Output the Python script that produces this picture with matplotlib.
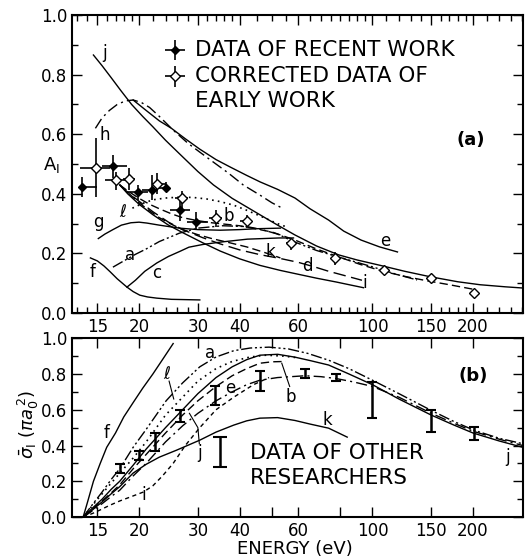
import numpy as np
import matplotlib.pyplot as plt
from matplotlib.ticker import FixedLocator, NullFormatter

plt.rcParams["font.family"] = ["DejaVu Sans"]
plt.rcParams["mathtext.fontset"] = "dejavusans"

# ---------------- panel (a): A_I vs energy ----------------
# recent work (filled diamonds)
rec_E = [13.5, 16.7, 19.8, 21.9, 24.0, 26.6, 29.6]
rec_A = [0.423, 0.493, 0.405, 0.413, 0.419, 0.346, 0.305]
rec_E_lo = [13.3, 15.5, 18.4, 20.4, 22.8, 24.8, 27.9]
rec_E_hi = [15.0, 18.4, 21.2, 22.8, 24.8, 28.4, 32.1]
rec_A_lo = [0.39, 0.453, 0.38, 0.38, 0.406, 0.31, 0.28]
rec_A_hi = [0.456, 0.53, 0.43, 0.463, 0.44, 0.38, 0.34]

# corrected early work (open diamonds)
early_E = [14.9, 17.0, 18.6, 22.7, 26.9, 33.9, 42.0, 57.2, 77.4, 108, 150, 201]
early_A = [0.487, 0.446, 0.45, 0.433, 0.386, 0.319, 0.309, 0.235, 0.185, 0.144, 0.117, 0.067]
early_E_lo = [13.3, 15.8, 17.9, 21.8, 25.6, 32.5, 40.2, 55.0, 77.4, 108, 150, 201]
early_E_hi = [16.4, 18.4, 19.5, 24.0, 28.0, 35.4, 43.0, 59.2, 77.4, 108, 150, 201]
early_A_lo = [0.39, 0.413, 0.413, 0.40, 0.346, 0.289, 0.285, 0.21, 0.16, 0.128, 0.117, 0.067]
early_A_hi = [0.587, 0.473, 0.487, 0.47, 0.41, 0.346, 0.33, 0.25, 0.205, 0.154, 0.117, 0.067]

# theory curves, panel (a)
ja_E = [14.6, 15.5, 16.5, 17.6, 19, 20.5, 22, 24, 26.4, 30, 33.4, 38, 46, 52, 58.6,
        68, 79.3, 90, 105.5, 125, 148.6, 180, 210, 250, 282]
ja_A = [0.866, 0.83, 0.79, 0.748, 0.70, 0.66, 0.625, 0.58, 0.535, 0.475, 0.43, 0.385,
        0.33, 0.295, 0.262, 0.225, 0.195, 0.178, 0.16, 0.14, 0.122, 0.105, 0.095, 0.088, 0.084]
ea_E = [19.2, 21, 23, 25, 27.5, 30.4, 34, 37.5, 42, 46.1, 52, 58.6, 65, 73.9, 82,
        92.4, 105, 118.8]
ea_A = [0.715, 0.68, 0.645, 0.62, 0.585, 0.55, 0.515, 0.49, 0.462, 0.44, 0.415, 0.386,
        0.35, 0.312, 0.275, 0.245, 0.222, 0.205]
ha_E = [14.8, 15.5, 16.3, 17.2, 18.2, 19.2, 20.3, 21.5, 23, 25.3, 28, 30.4, 34, 37,
        41, 46, 50, 53.7]
ha_A = [0.62, 0.655, 0.68, 0.70, 0.712, 0.715, 0.707, 0.69, 0.66, 0.614, 0.57, 0.54,
        0.5, 0.47, 0.43, 0.396, 0.37, 0.352]
ga_E = [15.1, 15.8, 16.7, 17.7, 18.9, 20, 21.1, 23, 26.4, 30, 35, 40, 45, 53]
ga_A = [0.25, 0.265, 0.28, 0.295, 0.303, 0.305, 0.302, 0.295, 0.285, 0.28, 0.278,
        0.28, 0.283, 0.285]
fa_E = [14.3, 15.0, 15.7, 16.4, 17.2, 18.4, 19.2, 20.1, 21.2, 22.6, 25, 30.4]
fa_A = [0.185, 0.175, 0.158, 0.138, 0.115, 0.087, 0.072, 0.06, 0.054, 0.05, 0.046, 0.044]
ca_E = [18.4, 19.5, 20.8, 22.6, 24.5, 26.5, 28.2, 31, 35, 42.2, 52.6, 58]
ca_A = [0.087, 0.11, 0.14, 0.168, 0.19, 0.207, 0.221, 0.23, 0.238, 0.248, 0.252, 0.252]
aa_E = [16.7, 18, 19.5, 21, 23, 26.4, 30, 35.6, 42, 46, 52, 58, 68, 78, 90, 100,
        118, 136]
aa_A = [0.154, 0.175, 0.197, 0.215, 0.24, 0.268, 0.285, 0.293, 0.29, 0.282, 0.265,
        0.24, 0.21, 0.19, 0.17, 0.155, 0.13, 0.111]
la_E = [19.1, 20.5, 22, 24, 26.4, 29, 31.8, 35, 38.4, 42, 46.9, 52, 55]
la_A = [0.352, 0.368, 0.38, 0.386, 0.389, 0.388, 0.383, 0.374, 0.362, 0.345, 0.322,
        0.3, 0.29]
ba_E = [17.5, 18.5, 20, 21.5, 23, 25, 27, 30, 33, 40, 50, 58.6, 68, 78.5, 92,
        107.6, 125, 146, 170, 200]
ba_A = [0.43, 0.41, 0.385, 0.365, 0.35, 0.333, 0.32, 0.31, 0.303, 0.293, 0.272, 0.245,
        0.215, 0.19, 0.163, 0.14, 0.123, 0.108, 0.095, 0.08]
ka_E = [17.5, 18.5, 20, 21.5, 23, 25, 27, 30, 33, 37, 42, 47, 53]
ka_A = [0.43, 0.405, 0.37, 0.343, 0.32, 0.298, 0.28, 0.263, 0.25, 0.237, 0.222, 0.205, 0.185]
da_E = [17.5, 18.5, 20, 22, 24.5, 27, 31, 35, 40, 46, 53, 60, 67, 74, 83, 93]
da_A = [0.43, 0.405, 0.375, 0.34, 0.305, 0.28, 0.253, 0.232, 0.212, 0.196, 0.183, 0.17,
        0.155, 0.14, 0.125, 0.11]
ia_E = [17.5, 18.5, 20, 22, 24.5, 27, 31, 35, 40, 46, 53, 60, 68, 78, 86, 94]
ia_A = [0.43, 0.4, 0.365, 0.33, 0.295, 0.27, 0.236, 0.208, 0.182, 0.16, 0.143, 0.13,
        0.117, 0.104, 0.094, 0.085]

# ---------------- panel (b): sigma_I vs energy ----------------
fb_E = [13.6, 14.0, 14.6, 15.3, 16.0, 17.0, 18.0, 19.2, 20.5, 22.0, 23.5, 25.3]
fb_s = [0.0, 0.08, 0.2, 0.3, 0.39, 0.47, 0.56, 0.64, 0.72, 0.8, 0.88, 0.97]
ab_E = [13.6, 14.5, 15.5, 16.5, 17.5, 19.2, 21, 24.1, 27, 30.4, 34, 38.4, 43, 49,
        56, 64, 73.9, 85, 100, 120, 148.6, 175, 201, 240, 282]
ab_s = [0.0, 0.07, 0.14, 0.21, 0.27, 0.39, 0.49, 0.65, 0.75, 0.84, 0.895, 0.93, 0.945,
        0.95, 0.94, 0.915, 0.877, 0.83, 0.765, 0.69, 0.6, 0.535, 0.486, 0.44, 0.41]
lb_E = [13.6, 14.5, 15.5, 16.5, 17.5, 19.2, 21, 24, 27, 30, 34, 38, 43, 48, 54, 60]
lb_s = [0.0, 0.065, 0.13, 0.19, 0.245, 0.33, 0.42, 0.57, 0.67, 0.76, 0.83, 0.87,
        0.895, 0.905, 0.9, 0.89]
jb_E = [13.6, 14.5, 15.5, 16.5, 17.5, 19.2, 21, 24, 27, 30, 34, 38, 42, 46, 52,
        58.6, 65, 73.9, 85, 100, 120, 150, 175, 200, 240, 282]
jb_s = [0.0, 0.05, 0.1, 0.155, 0.2, 0.29, 0.38, 0.5, 0.6, 0.69, 0.78, 0.84, 0.88,
        0.905, 0.91, 0.894, 0.875, 0.85, 0.8, 0.74, 0.66, 0.57, 0.515, 0.47, 0.425, 0.39]
bb_E = [13.6, 14.5, 15.5, 16.5, 17.5, 19.2, 21, 24, 27, 30, 34, 38, 42, 46, 50, 55]
bb_s = [0.0, 0.045, 0.09, 0.135, 0.18, 0.27, 0.35, 0.47, 0.57, 0.65, 0.73, 0.79,
        0.83, 0.86, 0.868, 0.87]
eb_E = [13.6, 14.5, 15.5, 16.5, 17.5, 19.2, 21, 24, 27, 30, 34, 38, 42, 46, 52,
        62.8, 70, 77.5, 88, 100, 120, 150, 175, 200, 240, 282]
eb_s = [0.0, 0.035, 0.075, 0.115, 0.15, 0.23, 0.3, 0.42, 0.51, 0.58, 0.65, 0.70,
        0.74, 0.765, 0.78, 0.79, 0.785, 0.775, 0.755, 0.73, 0.67, 0.58, 0.525, 0.48,
        0.435, 0.40]
ib_E = [13.6, 14.5, 15.3, 16.3, 17.5, 19, 20.6, 22, 23.5, 25.3, 27.5, 30.4, 34,
        38.4, 44, 49]
ib_s = [0.0, 0.02, 0.04, 0.065, 0.09, 0.115, 0.14, 0.175, 0.23, 0.3, 0.4, 0.5, 0.6,
        0.67, 0.74, 0.78]
kb_E = [13.6, 14.5, 15.5, 16.5, 17.5, 19.2, 21, 23, 25.9, 30.4, 34, 38.4, 42, 46,
        52, 58.6, 65, 73.9, 84]
kb_s = [0.0, 0.04, 0.085, 0.13, 0.17, 0.246, 0.295, 0.335, 0.374, 0.43, 0.475, 0.514,
        0.538, 0.553, 0.556, 0.54, 0.52, 0.497, 0.447]

# data of other researchers
oth_E = [17.5, 20.0, 22.3, 26.6, 33.8, 46.0, 62.8, 77.5, 100, 150, 201]
oth_s = [0.274, 0.346, 0.42, 0.565, 0.68, 0.76, 0.80, 0.78, 0.655, 0.537, 0.467]
oth_err = [0.025, 0.025, 0.048, 0.035, 0.055, 0.055, 0.025, 0.02, 0.1, 0.06, 0.036]

tick_vals = [15, 20, 30, 40, 60, 100, 150, 200]
tick_text = ["15", "20", "30", "40", "60", "100", "150", "200"]
minor_a = list(range(13, 20)) + list(range(22, 40, 2)) + list(range(45, 100, 5)) \
    + list(range(110, 200, 10)) + [220, 240, 260, 280]
ticks_b = [15, 20, 30, 40, 50, 60, 80, 100, 150, 200]

DASHDOT = (0, (8, 3, 1.5, 3))
DASHDOT2 = (0, (8, 2, 1.5, 2, 1.5, 2))
DOTTED = (0, (1, 2.5))
DASHED = (0, (6, 3))
SHORTDASH = (0, (3, 2.5))

fig = plt.figure(figsize=(5.26, 5.59), dpi=100)
ax1 = fig.add_axes([0.137, 0.440, 0.857, 0.533])
ax2 = fig.add_axes([0.137, 0.075, 0.857, 0.320])

for ax in (ax1, ax2):
    ax.set_xscale("log")
    ax.set_xlim(12.6, 282)
    ax.set_ylim(0, 1.0)
    ax.tick_params(which="both", direction="in", top=True, right=True,
                   labelsize=12, width=1.0)
    ax.tick_params(which="major", length=7)
    ax.tick_params(which="minor", length=4)
    for sp in ax.spines.values():
        sp.set_linewidth(1.5)
    ax.set_yticks([0, 0.2, 0.4, 0.6, 0.8, 1.0])
    ax.set_yticklabels(["0.0", "0.2", "0.4", "0.6", "0.8", "1.0"])
    ax.yaxis.set_minor_locator(FixedLocator([0.1, 0.3, 0.5, 0.7, 0.9]))

ax1.xaxis.set_major_locator(FixedLocator(tick_vals))
ax1.set_xticklabels(tick_text)
ax1.xaxis.set_minor_locator(FixedLocator([m for m in minor_a if m not in tick_vals]))
ax1.xaxis.set_minor_formatter(NullFormatter())

ax2.xaxis.set_major_locator(FixedLocator(ticks_b))
ax2.set_xticklabels(["15", "20", "30", "40", "", "60", "", "100", "150", "200"])
ax2.xaxis.set_minor_locator(FixedLocator([]))

lw = 1.0
k = "black"
# panel (a) curves
ax1.plot(ja_E, ja_A, color=k, lw=lw)
ax1.plot(ea_E, ea_A, color=k, lw=lw)
ax1.plot(ha_E, ha_A, color=k, lw=lw, linestyle=DASHDOT)
ax1.plot(ga_E, ga_A, color=k, lw=lw)
ax1.plot(fa_E, fa_A, color=k, lw=lw)
ax1.plot(ca_E, ca_A, color=k, lw=lw)
ax1.plot(aa_E, aa_A, color=k, lw=lw, linestyle=DASHDOT2)
ax1.plot(la_E, la_A, color=k, lw=1.2, linestyle=DOTTED)
ax1.plot(ba_E, ba_A, color=k, lw=lw, linestyle=DASHED)
ax1.plot(ka_E, ka_A, color=k, lw=lw, linestyle=DASHED)
ax1.plot(da_E, da_A, color=k, lw=lw, linestyle=(0, (9, 4)))
ax1.plot(ia_E, ia_A, color=k, lw=lw)

# panel (a) data
rec_xerr = [np.subtract(rec_E, rec_E_lo), np.subtract(rec_E_hi, rec_E)]
rec_yerr = [np.subtract(rec_A, rec_A_lo), np.subtract(rec_A_hi, rec_A)]
ax1.errorbar(rec_E, rec_A, xerr=rec_xerr, yerr=rec_yerr, fmt="D", ms=4.5,
             color=k, mfc=k, elinewidth=1.2, capsize=0, zorder=4)
early_xerr = [np.subtract(early_E, early_E_lo), np.subtract(early_E_hi, early_E)]
early_yerr = [np.subtract(early_A, early_A_lo), np.subtract(early_A_hi, early_A)]
ax1.errorbar(early_E, early_A, xerr=early_xerr, yerr=early_yerr, fmt="D", ms=5,
             color=k, mfc="white", mew=1.0, elinewidth=1.2, capsize=0, zorder=5)

# panel (a) curve labels
lab_a = [("j", 15.8, 0.872), ("h", 15.8, 0.597), ("g", 15.1, 0.305),
         ("f", 14.5, 0.138), ("a", 18.8, 0.195), ("c", 22.6, 0.134),
         (r"$\ell$", 17.9, 0.339), ("b", 37.0, 0.326), ("k", 49.6, 0.205),
         ("d", 63.9, 0.158), ("i", 94.5, 0.10), ("e", 108.9, 0.242)]
for t, x, y in lab_a:
    ax1.text(x, y, t, fontsize=12, ha="center", va="center")

# legend of panel (a)
ax1.errorbar([0.228], [0.883], xerr=[0.022], yerr=[0.035], fmt="D", ms=4.5,
             color=k, mfc=k, elinewidth=1.2, transform=ax1.transAxes)
ax1.errorbar([0.228], [0.795], xerr=[0.022], yerr=[0.035], fmt="D", ms=5,
             color=k, mfc="white", elinewidth=1.2, transform=ax1.transAxes)
for txt, yy in [("DATA OF RECENT WORK", 0.883), ("CORRECTED DATA OF", 0.795),
                ("EARLY WORK", 0.712)]:
    ax1.text(0.272, yy, txt, transform=ax1.transAxes, fontsize=15.5,
             va="center", ha="left")
ax1.text(0.885, 0.58, "(a)", transform=ax1.transAxes, fontsize=13,
         fontweight="bold", ha="center", va="center")

# panel (b) curves
ax2.plot(fb_E, fb_s, color=k, lw=lw)
ax2.plot(ab_E, ab_s, color=k, lw=lw, linestyle=DASHDOT2)
ax2.plot(lb_E, lb_s, color=k, lw=1.2, linestyle=DOTTED)
ax2.plot(jb_E, jb_s, color=k, lw=lw)
ax2.plot(bb_E, bb_s, color=k, lw=lw, linestyle=DASHED)
ax2.plot(eb_E, eb_s, color=k, lw=lw, linestyle=DASHDOT)
ax2.plot(ib_E, ib_s, color=k, lw=lw, linestyle=SHORTDASH)
ax2.plot(kb_E, kb_s, color=k, lw=lw)

ax2.errorbar(oth_E, oth_s, yerr=oth_err, fmt="none", ecolor=k,
             elinewidth=1.8, capsize=3.5, capthick=1.5, zorder=5)

lab_b = [("f", 16.0, 0.469), (r"$\ell$", 24.2, 0.80), ("a", 32.7, 0.92),
         ("e", 37.5, 0.72), ("b", 57.1, 0.67), ("k", 73.5, 0.542),
         ("j", 30.3, 0.357), ("j", 254, 0.335), ("i", 20.7, 0.123)]
for t, x, y in lab_b:
    ax2.text(x, y, t, fontsize=12, ha="center", va="center")
# leader lines to curves
ax2.plot([24.6, 25.4], [0.76, 0.66], color=k, lw=0.8)
ax2.plot([53.5, 56.5], [0.86, 0.73], color=k, lw=0.8)
ax2.plot([28.3, 30.0, 30.3], [0.58, 0.50, 0.41], color=k, lw=0.8)

# legend of panel (b)
ax2.errorbar([0.328], [0.363], yerr=[0.084], fmt="none", ecolor=k,
             elinewidth=1.8, capsize=5, capthick=1.5, transform=ax2.transAxes)
ax2.text(0.395, 0.358, "DATA OF OTHER", transform=ax2.transAxes,
         fontsize=15.5, va="center", ha="left")
ax2.text(0.395, 0.218, "RESEARCHERS", transform=ax2.transAxes,
         fontsize=15.5, va="center", ha="left")
ax2.text(0.889, 0.788, "(b)", transform=ax2.transAxes, fontsize=13,
         fontweight="bold", ha="center", va="center")

fig.text(0.097, 0.705, r"A$_\mathrm{I}$", fontsize=13, ha="center", va="center")
fig.text(0.055, 0.241, r"$\bar{\sigma}_\mathrm{I}\ (\pi a_0^{\,2})$", fontsize=13,
         rotation=90, ha="center", va="center")
fig.text(0.561, 0.017, "ENERGY (eV)", fontsize=13, ha="center", va="center")

fig.savefig("out.png", dpi=100)
